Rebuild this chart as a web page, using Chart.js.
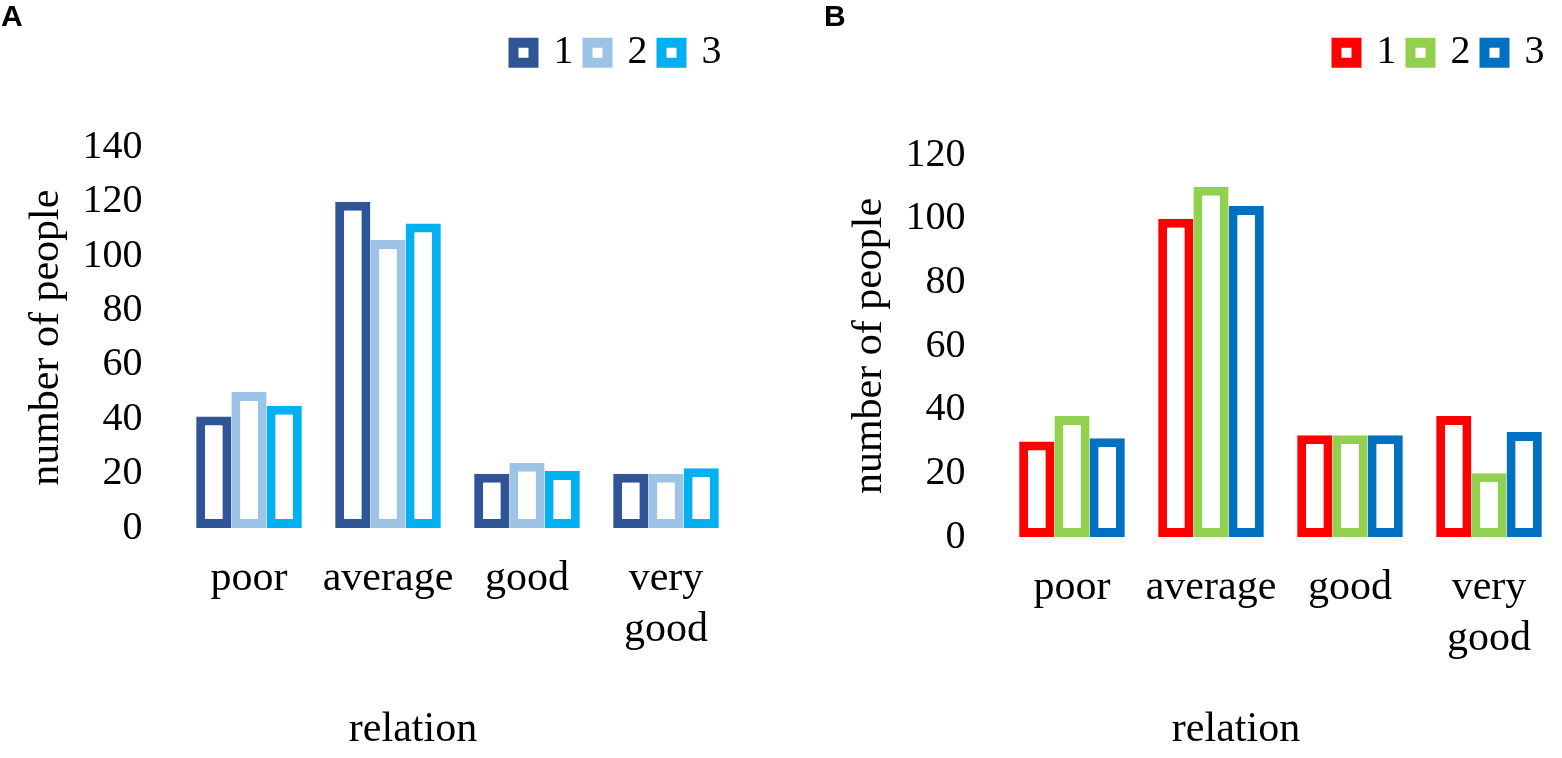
<!DOCTYPE html>
<html>
<head>
<meta charset="utf-8">
<script src="https://cdn.jsdelivr.net/npm/chart.js@4.4.1/dist/chart.umd.min.js"></script>
<style>
  html, body { margin: 0; padding: 0; background: #fff; }
  #wrap { position: relative; width: 1562px; height: 758px; overflow: hidden; }
  #wrap canvas { position: absolute; top: 0; }
  #chartA { left: 0; }
  #chartB { left: 823px; }
</style>
</head>
<body>
<div id="wrap">
  <canvas id="chartA" width="825" height="758"></canvas>
  <canvas id="chartB" width="825" height="758"></canvas>
</div>
<script>
const categories = ["poor", "average", "good", ["very", "good"]];
const seriesNames = ["1", "2", "3"];

// panel A
const a1 = [41, 120, 20, 20];
const a2 = [50, 106, 24, 20];
const a3 = [45, 112, 21, 22];
const yTicksA = [0, 20, 40, 60, 80, 100, 120, 140];
const colorsA = ["#2F5597", "#9DC3E6", "#00B0F0"];

// panel B
const b1 = [30, 100, 32, 38];
const b2 = [38, 110, 32, 20];
const b3 = [31, 104, 32, 33];
const yTicksB = [0, 20, 40, 60, 80, 100, 120];
const colorsB = ["#FF0000", "#92D050", "#0070C0"];

const serif = "'Liberation Serif', 'Times New Roman', serif";
Chart.defaults.color = "#000";

// push the plot area down below the legend
const legendGap = {
    id: "legendGap",
    beforeLayout(chart, args, opts) {
        const legend = chart.legend;
        if (!legend || legend._gapPatched) return;
        const fit = legend.fit;
        legend.fit = function () {
            fit.call(this);
            this.height += opts.gap;
        };
        legend._gapPatched = true;
    }
};

const makeChart = (id, letter, series, colors, yTicks, gap, xHeight) => {
    const datasets = series.map((data, i) => ({
        label: seriesNames[i],
        data: data,
        backgroundColor: "#ffffff",
        borderColor: colors[i],
        borderWidth: 9,
        borderSkipped: false,
        categoryPercentage: 0.76,
        barPercentage: 1.0
    }));

    new Chart(document.getElementById(id), {
        type: "bar",
        data: { labels: categories, datasets: datasets },
        plugins: [legendGap],
        options: {
            responsive: false,
            animation: false,
            layout: { padding: { left: 1, right: 0, top: 0, bottom: 0 } },
            plugins: {
                legendGap: { gap: gap },
                tooltip: { enabled: false },
                subtitle: {
                    display: true,
                    text: letter,
                    position: "top",
                    align: "start",
                    color: "#000",
                    font: { family: "'Liberation Sans', Arial, sans-serif", size: 30, weight: "bold", lineHeight: 0.05 },
                    padding: { top: 17.25, bottom: 0 }
                },
                legend: {
                    position: "top",
                    align: "end",
                    fullSize: false,
                    labels: {
                        font: { family: serif, size: 40 },
                        boxWidth: 20,
                        boxHeight: 20,
                        padding: 14,
                        generateLabels(chart) {
                            return Chart.defaults.plugins.legend.labels.generateLabels(chart)
                                .map(l => ({ ...l, lineWidth: 10 }));
                        }
                    }
                },
                title: {
                    display: true,
                    text: "relation",
                    position: "bottom",
                    align: "center",
                    color: "#000",
                    font: { family: serif, size: 42, weight: "normal", lineHeight: 1.2 },
                    padding: { top: 0, bottom: 3 }
                }
            },
            scales: {
                x: {
                    grid: { display: false, drawTicks: false },
                    border: { display: false },
                    ticks: {
                        font: { family: serif, size: 42, lineHeight: 1.2 },
                        padding: 26,
                        maxRotation: 0,
                        autoSkip: false
                    },
                    afterFit(scale) { scale.height = xHeight; }
                },
                y: {
                    min: yTicks[0],
                    max: yTicks[yTicks.length - 1],
                    grid: { display: false, drawTicks: false },
                    border: { display: false },
                    afterBuildTicks(scale) { scale.ticks = yTicks.map(v => ({ value: v })); },
                    ticks: {
                        font: { family: serif, size: 40 },
                        padding: 37
                    },
                    title: {
                        display: true,
                        text: "number of people",
                        font: { family: serif, size: 42, lineHeight: 1.2 },
                        padding: { top: 21, bottom: 0 }
                    },
                    afterFit(scale) { scale.width = 178.5; }
                },
                // empty right axis so the bottom title centres like the original
                y2: {
                    position: "right",
                    display: true,
                    grid: { display: false, drawTicks: false },
                    border: { display: false },
                    ticks: { display: false },
                    afterFit(scale) { scale.width = 89.5; }
                }
            }
        }
    });
};

makeChart("chartA", "A", [a1, a2, a3], colorsA, yTicksA, 64.75, 176.6);
makeChart("chartB", "B", [b1, b2, b3], colorsB, yTicksB, 72.25, 167.6);
</script>
</body>
</html>
